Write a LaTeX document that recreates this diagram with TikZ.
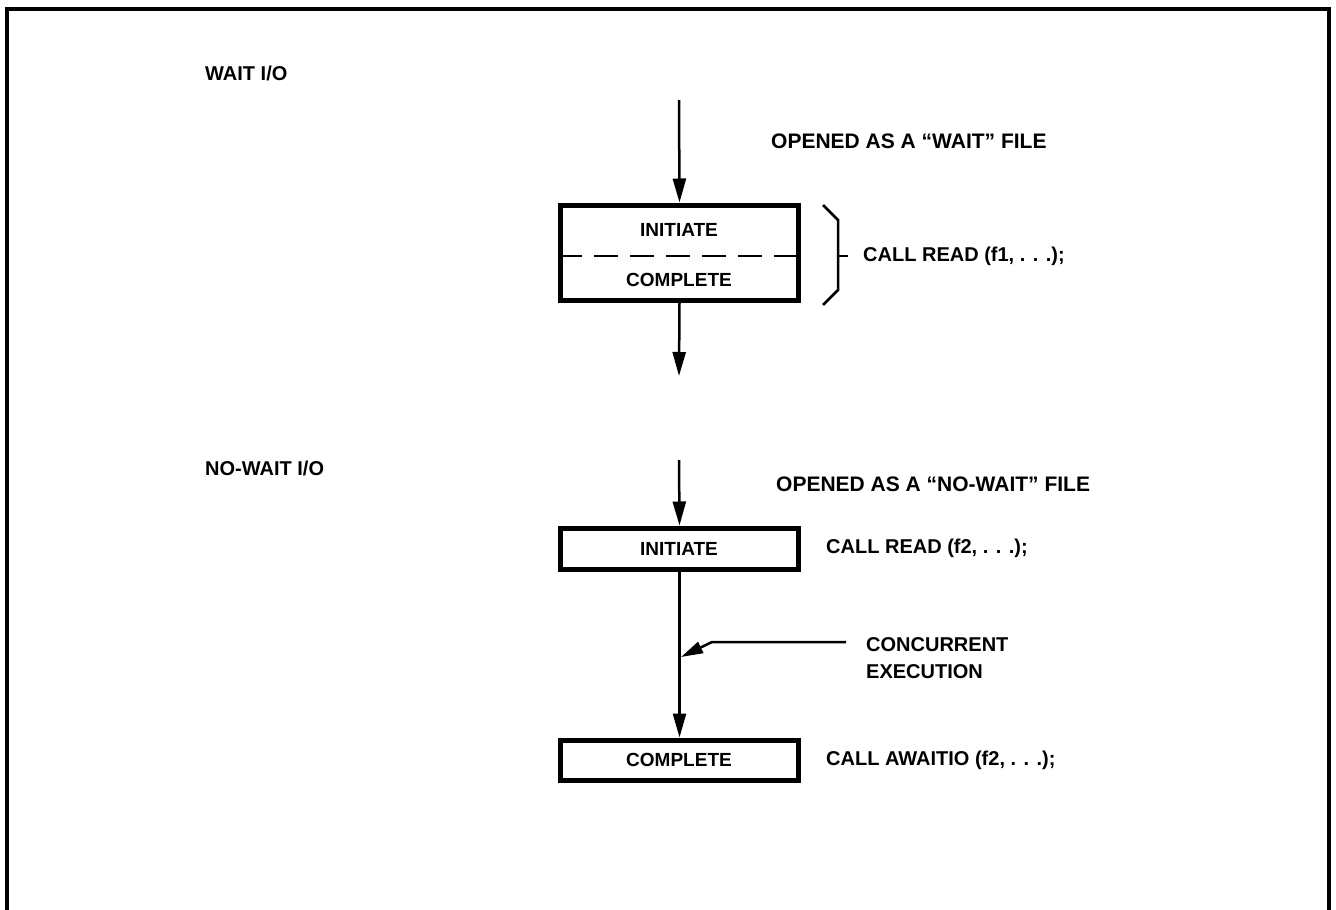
\documentclass[tikz,border=0pt]{standalone}
\usepackage{fontspec}
\setmainfont{Liberation Sans}
\usetikzlibrary{arrows.meta}
\begin{document}
\begin{tikzpicture}[x=1pt,y=-1pt,
  lbl/.style={font=\bfseries\fontsize{20}{24}\selectfont, inner sep=0pt, anchor=west},
  biglbl/.style={lbl, font=\bfseries\fontsize{21}{24}\selectfont},
  boxtxt/.style={font=\bfseries\fontsize{19}{22}\selectfont, inner sep=0pt},
  stepbox/.style={draw, line width=5pt, inner sep=0pt, minimum width=238pt},
  flow/.style={line width=2.5pt, -{Triangle[width=13pt,length=24pt]}},
  thin/.style={line width=2.5pt},
  frameline/.style={line width=4pt},
]
\useasboundingbox (0,0) rectangle (1336,910);

% open frame
\draw[frameline] (7,912) -- (7,9) -- (1329,9) -- (1329,912);

% ---- wait I/O ----
\node[lbl] (waitio) at (205,73) {WAIT I/O};
\node[biglbl] (openw) at (771,141) {OPENED AS A “WAIT” FILE};

\node[stepbox, minimum height=95pt] (b1) at (679.5,252.5) {};
\node[boxtxt] (b1i) at (679,230) {INITIATE};
\node[boxtxt] (b1c) at (679,280) {COMPLETE};
\draw[thin, dash pattern=on 24pt off 12pt] (b1.west |- 0,256) -- (b1.east |- 0,256);

\coordinate (in1) at (679,100);
\coordinate (out1) at (679,376);
\draw[flow] (in1) -- (b1.north);
\draw[flow] (b1.south) -- (out1);

% brace
\draw[thin, line join=miter] (823,205) -- (838,220) -- (838,290) -- (823,305);
\draw[thin] (838,256) -- (848,256);
\node[lbl] (read1) at (863,256) {CALL READ (f1, . . .);};

% ---- no-wait I/O ----
\node[lbl] (nowaitio) at (205,468) {NO-WAIT I/O};
\node[biglbl] (openn) at (776,484) {OPENED AS A “NO-WAIT” FILE};

\node[stepbox, minimum height=41pt] (b2) at (679.5,548.5) {};
\node[boxtxt] (b2i) at (679,548.5) {INITIATE};
\node[lbl] (read2) at (826,548) {CALL READ (f2, . . .);};

\node[stepbox, minimum height=40pt] (b3) at (679.5,760) {};
\node[boxtxt] (b3c) at (679,760) {COMPLETE};
\node[lbl] (await) at (826,760) {CALL AWAITIO (f2, . . .);};

\coordinate (in2) at (679,460);
\draw[flow] (in2) -- (b2.north);
\draw[flow] (b2.south) -- (b3.north);

% concurrent execution pointer
\coordinate (cstart) at (846,642);
\coordinate (cbend) at (712,642);
\coordinate (cend) at (681,657);
\draw[line width=2.5pt, -{Triangle[width=12pt,length=22pt]}] (cstart) -- (cbend) -- (cend);
\node[lbl] (conc) at (866,645) {CONCURRENT};
\node[lbl] (exec) at (866,672) {EXECUTION};

\end{tikzpicture}
\end{document}
